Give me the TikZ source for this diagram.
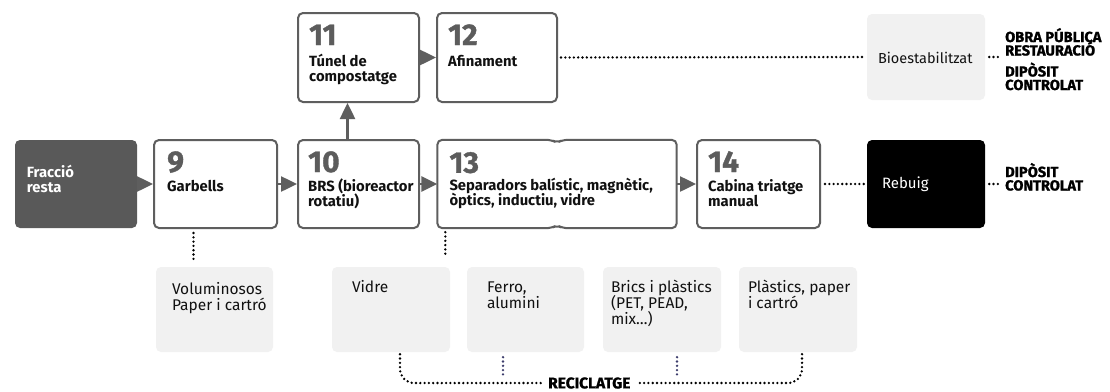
\documentclass[tikz,border=0pt]{standalone}
\usepackage{fontspec}
\setmainfont{Fira Sans}
\newfontfamily\heavyfont[BoldFeatures={FakeBold=1.2}]{Fira Sans}
\usetikzlibrary{arrows.meta}
\definecolor{boxgray}{HTML}{5E5E5E}
\definecolor{numgray}{HTML}{5C5C5C}
\definecolor{darkfill}{HTML}{595959}
\definecolor{lightfill}{HTML}{F1F1F1}
\definecolor{dotblue}{HTML}{3B3B6B}
\definecolor{txt}{HTML}{111111}
\newcommand{\mlines}[1]{\parbox[t]{220pt}{\raggedright\lineskiplimit=-100pt #1}}
\begin{document}
\begin{tikzpicture}[x=1pt,y=-1pt,
  box/.style={rectangle, draw=boxgray, line width=2pt, rounded corners=5pt, inner sep=0pt, minimum height=88pt},
  ghost/.style={rectangle, inner sep=0pt, minimum height=88pt},
  outline/.style={draw=boxgray, line width=2pt, rounded corners=5pt},
  light/.style={rectangle, fill=lightfill, rounded corners=5pt, inner sep=0pt, minimum height=85pt},
  num/.style={anchor=base west, inner sep=0pt, text=numgray, font=\fontsize{30}{30}\selectfont\heavyfont\bfseries},
  lbl/.style={anchor=base west, inner sep=0pt, text=txt, font=\fontsize{14.8}{15}\selectfont\bfseries},
  plain/.style={anchor=base west, inner sep=0pt, text=txt, font=\fontsize{15.5}{16}\selectfont},
  side/.style={anchor=base west, inner sep=0pt, text=black, font=\fontsize{14.6}{13.5}\selectfont\heavyfont\bfseries},
  arr/.style={draw=boxgray, line width=2.5pt, -{Triangle[length=16pt,width=15pt]}},
  dots/.style={draw=black, line width=2.6pt, dash pattern=on 0pt off 4.3pt, line cap=round},
  bdots/.style={draw=dotblue, line width=2.6pt, dash pattern=on 0pt off 4.3pt, line cap=round}
]
\fill[white] (0,0) rectangle (1110,391);
\useasboundingbox (0,0) rectangle (1110,391);

% main row
\node[rectangle, fill=darkfill, rounded corners=5pt, inner sep=0pt, minimum width=122pt, minimum height=88pt] (frac) at (76,184) {};
\node[box, minimum width=123pt] (b9) at (215.5,184) {};
\node[box, minimum width=121pt] (b10) at (358.5,184) {};
\node[box, minimum width=121pt, minimum height=89pt] (b11) at (358.5,57.5) {};
\node[box, minimum width=120pt, minimum height=89pt] (b12) at (497,57.5) {};
\node[ghost, minimum width=239pt] (b13) at (557,184) {};
\draw[outline] ([yshift=-3pt]b13.north) -- ([xshift=6pt]b13.north) -- (b13.north east) -- (b13.south east)
  -- ([xshift=6pt]b13.south) -- ([yshift=3pt]b13.south) -- ([xshift=-6pt]b13.south) -- (b13.south west)
  -- (b13.north west) -- ([xshift=-6pt]b13.north) -- cycle;
\node[box, minimum width=123pt] (b14) at (758.5,184) {};
\node[rectangle, fill=black, rounded corners=5pt, inner sep=0pt, minimum width=118pt, minimum height=88pt] (reb) at (926,184) {};
\node[light, minimum width=118pt, minimum height=86pt] (bio) at (926,57) {};

% bottom boxes
\node[light, minimum width=117pt] (vol) at (214.5,309.5) {};
\node[light, minimum width=118pt] (vid) at (391,309.5) {};
\node[light, minimum width=117pt] (fer) at (525.5,309.5) {};
\node[light, minimum width=118pt] (bri) at (662,309.5) {};
\node[light, minimum width=118pt] (pla) at (798,309.5) {};

% texts
\node[lbl, text=white] (tfrac) at ([xshift=12pt,yshift=-38pt]frac.north west) {\mlines{Fracció\\resta}};
\node[num] (n9) at ([xshift=14pt,yshift=-33pt]b9.north west) {9};
\node[lbl] (t9) at ([xshift=14pt,yshift=-52pt]b9.north west) {\mlines{Garbells}};
\node[num] (n10) at ([xshift=11pt,yshift=-33pt]b10.north west) {10};
\node[lbl] (t10) at ([xshift=11pt,yshift=-52pt]b10.north west) {\mlines{BRS (bioreactor\\rotatiu)}};
\node[num] (n11) at ([xshift=12pt,yshift=-33pt]b11.north west) {11};
\node[lbl] (t11) at ([xshift=12pt,yshift=-54pt]b11.north west) {\mlines{Túnel de\\compostatge}};
\node[num] (n12) at ([xshift=12pt,yshift=-33pt]b12.north west) {12};
\node[lbl] (t12) at ([xshift=12pt,yshift=-54pt]b12.north west) {\mlines{Afinament}};
\node[num] (n13) at ([xshift=12pt,yshift=-33pt]b13.north west) {13};
\node[lbl] (t13) at ([xshift=12pt,yshift=-51pt]b13.north west) {\mlines{Separadors balístic, magnètic,\\òptics, inductiu, vidre}};
\node[num] (n14) at ([xshift=12pt,yshift=-33pt]b14.north west) {14};
\node[lbl] (t14) at ([xshift=12pt,yshift=-52pt]b14.north west) {\mlines{Cabina triatge\\manual}};
\node[plain, text=white, font=\fontsize{15}{16}\selectfont] (treb) at ([xshift=15pt,yshift=-49pt]reb.north west) {Rebuig};
\node[plain, font=\fontsize{14.5}{16}\selectfont] (tbio) at ([xshift=11pt,yshift=-50pt]bio.north west) {Bioestabilitzat};

\node[plain] (tvol) at ([xshift=16pt,yshift=-28pt]vol.north west) {\mlines{Voluminosos\\Paper i cartró}};
\node[plain] (tvid) at ([xshift=20pt,yshift=-26pt]vid.north west) {\mlines{Vidre}};
\node[plain] (tfer) at ([xshift=20pt,yshift=-26pt]fer.north west) {\mlines{Ferro,\\alumini}};
\node[plain] (tbri) at ([xshift=8pt,yshift=-26pt]bri.north west) {\mlines{Brics i plàstics\\(PET, PEAD,\\mix…)}};
\node[plain] (tpla) at ([xshift=9pt,yshift=-26pt]pla.north west) {\mlines{Plàstics, paper\\i cartró}};

\node[side] (out1) at (1005,42) {\mlines{OBRA PÚBLICA\\RESTAURACIÓ\\[7.5pt]DIPÒSIT\\CONTROLAT}};
\node[side] (out2) at (1005,177) {\mlines{DIPÒSIT\\CONTROLAT}};
\node[side, anchor=west, font=\fontsize{15.5}{14}\selectfont\heavyfont\bfseries] (rec) at (548,383) {RECICLATGE};

% arrows
\draw[arr] (frac.east) -- (b9.west);
\draw[arr] (b9.east) -- (b10.west);
\draw[arr] (b10.east) -- (b13.west);
\draw[arr] (b13.east) -- (b14.west);
\draw[arr] (b11.east) -- (b12.west);
\draw[arr] ([xshift=-11pt]b10.north) -- ([xshift=-11pt]b11.south);

% dotted connectors
\coordinate (bioend) at (1000,57);
\coordinate (rebend) at (1000,184);
\draw[dots] ([xshift=3pt]b12.east) -- ([xshift=-2pt]bio.west);
\draw[dots] ([xshift=4pt]bio.east) -- (bioend);
\draw[dots] ([xshift=4pt]b14.east) -- ([xshift=-2pt]reb.west);
\draw[dots] ([xshift=4pt]reb.east) -- (rebend);
\draw[dots] ([xshift=-22pt,yshift=-4pt]b9.south) -- ([xshift=-22pt,yshift=7pt]b9.south |- vol.north);
\draw[dots] ([xshift=8pt,yshift=-4pt]b13.south west) -- ([xshift=8pt,yshift=9pt]b13.south west |- vid.north);
\draw[dots, rounded corners=14pt] ([xshift=9pt,yshift=-2pt]vid.south) -- ([xshift=9pt]vid.south |- rec.west) -- ([xshift=-7pt]rec.west);
\draw[dots, rounded corners=14pt] ([xshift=4pt,yshift=-2pt]pla.south) -- ([xshift=4pt]pla.south |- rec.east) -- ([xshift=9pt]rec.east);
\draw[bdots] ([xshift=-22.5pt,yshift=-5pt]fer.south) -- ([xshift=-22.5pt,yshift=-23pt]fer.south);
\draw[bdots] ([xshift=15pt,yshift=-5pt]bri.south) -- ([xshift=15pt,yshift=-23pt]bri.south);
\end{tikzpicture}
\end{document}
